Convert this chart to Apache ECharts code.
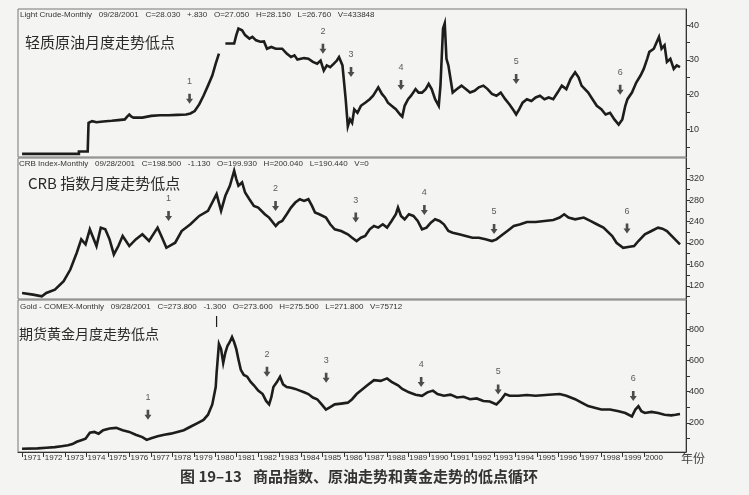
<!DOCTYPE html>
<html><head><meta charset="utf-8">
<script src="https://cdn.jsdelivr.net/npm/echarts@6/dist/echarts.min.js"></script>
<style>html,body{margin:0;padding:0;background:#f4f4f2}#c{width:749px;height:495px}</style>
</head><body><div id="c"></div>
<script>
// ---- tick labels ----
const yearTicks = [1971,1972,1973,1974,1975,1976,1977,1978,1979,1980,1981,1982,1983,1984,1985,1986,1987,1988,1989,1990,1991,1992,1993,1994,1995,1996,1997,1998,1999,2000];
const oilTickLabels = [10,20,30,40];
const oilMinorTicks = [5,10,15,20,25,30,35,40];
const crbTickLabels = [120,160,200,240,280,320];
const crbMinorTicks = [100,120,140,160,180,200,220,240,260,280,300,320,340];
const goldTickLabels = [200,400,600,800];
const goldMinorTicks = [100,200,300,400,500,600,700,800,900];

// ---- Light Crude monthly ----
const oilYears = [1970.99,1973.64,1973.64,1974.05,1974.09,1974.26,1974.46,1974.77,1975.17,1975.48,1975.78,1975.89,1975.99,1976.09,1976.19,1976.60,1977.01,1977.42,1977.82,1978.23,1978.64,1978.84,1979.04,1979.25,1979.45,1979.66,1979.86,1980.02,1980.17,1980.30,
  1980.47,1980.88,1980.98,1981.08,1981.25,1981.39,1981.59,1981.73,1981.90,1982.10,1982.27,1982.41,1982.61,1982.82,1983.12,1983.33,1983.53,1983.69,1983.83,1984.14,1984.34,1984.55,1984.75,1984.91,1985.06,1985.20,1985.36,1985.53,1985.67,1985.77,1985.93,1986.08,
  1986.18,1986.28,1986.38,1986.48,1986.63,1986.79,1986.99,1987.20,1987.36,1987.50,1987.60,1987.77,1987.91,1988.05,1988.22,1988.42,1988.62,1988.72,1988.83,1988.99,1989.13,1989.34,1989.48,1989.64,1989.81,1989.95,1990.09,1990.25,1990.42,1990.50,1990.62,1990.70,1990.78,1990.87,1990.97,
  1991.07,1991.27,1991.48,1991.68,1991.88,1992.09,1992.29,1992.50,1992.70,1992.90,1993.11,1993.31,1993.52,1993.72,1993.93,1994.03,1994.17,1994.33,1994.53,1994.74,1994.94,1995.14,1995.35,1995.55,1995.76,1995.96,1996.16,1996.37,1996.57,1996.78,1996.94,1997.08,1997.39,1997.59,1997.79,
  1998.00,1998.20,1998.41,1998.61,1998.81,1998.98,1999.12,1999.22,1999.43,1999.63,1999.83,1999.98,2000.14,2000.24,2000.45,2000.59,2000.69,2000.81,2000.95,2001.06,2001.22,2001.38,2001.52,2001.67];
const oilValues = [3.0,3.0,3.7,3.7,11.9,12.4,12.1,12.3,12.5,12.7,12.9,13.7,14.3,13.7,13.4,13.4,13.9,14.1,14.1,14.2,14.3,14.6,15.3,17.2,19.7,22.6,25.5,28.9,31.8,null,
  34.7,34.7,37.1,39.0,38.5,37.1,36.1,36.6,35.6,35.2,35.3,33.2,33.7,33.2,33.2,31.8,30.8,31.3,30.1,30.5,30.3,29.4,28.9,29.8,26.9,28.4,27.9,28.9,29.8,30.8,28.4,18.7,
  10.9,12.9,11.9,15.8,14.8,16.8,17.7,18.7,19.7,21.1,22.1,20.2,19.2,17.7,16.8,15.8,14.3,13.7,16.8,18.7,19.7,21.6,20.6,20.6,21.6,23.1,21.6,18.7,16.8,22.6,39.0,40.5,30.3,28.4,24.5,
  20.6,21.6,22.6,21.6,20.6,21.1,22.1,22.6,21.6,20.2,19.7,20.6,18.7,17.2,15.3,14.3,15.8,17.7,18.7,18.2,19.2,19.7,18.7,19.2,18.7,20.6,22.6,21.6,24.5,26.4,25.0,22.6,20.6,18.7,16.8,
  15.8,14.3,14.8,12.9,11.4,12.9,16.8,18.7,20.6,23.5,25.5,27.4,30.3,32.3,33.2,35.2,36.6,33.2,34.2,29.4,30.3,27.4,28.4,27.9];

// ---- CRB index monthly ----
const crbYears = [1970.99,1971.50,1971.91,1972.12,1972.52,1972.93,1973.24,1973.54,1973.75,1973.95,1974.15,1974.46,1974.66,1974.87,1975.07,1975.27,1975.48,1975.68,1975.99,1976.29,1976.60,1976.91,1977.31,1977.52,1977.72,1978.13,1978.43,1978.84,1979.25,1979.66,1980.06,1980.27,1980.47,1980.68,1980.88,
  1980.98,1981.08,1981.25,1981.39,1981.59,1981.80,1982.00,1982.31,1982.51,1982.82,1982.96,1983.12,1983.33,1983.53,1983.73,1983.94,1984.14,1984.34,1984.51,1984.65,1984.85,1985.16,1985.36,1985.57,1985.87,1986.18,1986.38,1986.59,1986.79,1986.99,1987.20,1987.40,1987.60,1987.81,
  1988.01,1988.22,1988.42,1988.52,1988.66,1988.83,1989.03,1989.24,1989.44,1989.64,1989.85,1990.05,1990.25,1990.46,1990.66,1990.87,1991.07,1991.37,1991.68,1991.99,1992.29,1992.60,1992.90,1993.11,1993.31,1993.62,1993.92,1994.23,1994.53,1994.94,1995.35,1995.76,
  1996.06,1996.27,1996.47,1996.78,1997.18,1997.49,1997.79,1998.10,1998.51,1998.71,1999.02,1999.32,1999.53,1999.73,2000.03,2000.34,2000.65,2000.85,2001.06,2001.36,2001.67];
const crbValues = [106.6,103.5,100.4,106.6,112.9,128.5,150.4,181.7,206.8,197.4,225.6,194.3,228.7,225.6,206.8,178.6,194.3,213.0,194.3,206.8,216.2,203.7,228.7,209.9,191.1,200.5,222.4,235.0,250.6,260.0,291.3,260.0,288.2,307.0,335.1,
  319.5,307.0,313.2,294.4,281.9,269.4,266.2,253.7,247.5,231.8,238.1,241.2,253.7,266.2,275.6,281.9,278.8,281.9,269.4,256.9,253.7,247.5,235.0,225.6,222.4,216.2,209.9,203.7,209.9,213.0,225.6,231.8,228.7,235.0,
  228.7,241.2,253.7,266.2,250.6,244.3,253.7,250.6,241.2,225.6,228.7,238.1,244.3,241.2,235.0,222.4,219.3,216.2,213.0,209.9,209.9,206.8,203.7,206.8,213.0,222.4,231.8,235.0,239.3,239.3,241.2,243.1,
  247.5,253.7,247.5,244.3,247.5,241.2,235.0,228.7,213.0,200.5,191.1,193.0,194.3,203.7,216.2,222.4,228.7,226.8,222.4,209.9,197.4];

// ---- Gold COMEX monthly ----
const goldYears = [1970.99,1971.71,1972.12,1972.52,1972.83,1973.13,1973.34,1973.54,1973.75,1973.95,1974.15,1974.36,1974.56,1974.77,1975.07,1975.38,1975.68,1975.99,1976.29,1976.60,1976.80,1977.01,1977.31,1977.62,1977.92,1978.23,1978.53,1978.84,1979.15,1979.45,1979.66,1979.86,1980.02,1980.06,1980.17,1980.27,1980.37,1980.47,1980.57,1980.67,1980.78,1980.88,1980.98,1981.08,1981.19,
  1981.33,1981.49,1981.65,1981.80,1982.00,1982.21,1982.37,1982.51,1982.61,1982.71,1982.88,1983.02,1983.16,1983.33,1983.53,1983.73,1983.94,1984.14,1984.34,1984.55,1984.75,1984.96,1985.16,1985.36,1985.57,1985.87,1986.18,1986.38,1986.59,1986.79,1987.09,1987.40,1987.71,1988.01,1988.22,1988.52,1988.72,
  1989.03,1989.34,1989.64,1989.89,1990.15,1990.36,1990.66,1990.97,1991.27,1991.58,1991.88,1992.19,1992.50,1992.80,1993.11,1993.31,1993.52,1993.72,1994.13,1994.53,1994.94,1995.55,1996.06,1996.37,1996.78,1997.08,1997.39,1997.69,1998.00,1998.41,1998.81,1999.12,1999.43,1999.59,1999.73,1999.87,
  2000.03,2000.34,2000.65,2000.95,2001.26,2001.46,2001.67];
const goldValues = [35,38,42,46,52,58,65,80,90,100,138,143,132,154,165,169,154,143,125,110,92,103,116,125,132,143,154,176,198,220,253,319,430,518,705,672,584,650,694,716,749,716,672,606,540,
  507,496,463,441,407,385,341,319,363,430,463,496,447,430,425,418,407,396,385,363,352,319,286,302,319,324,330,352,385,407,441,474,469,485,463,441,418,
  396,381,374,396,407,385,374,381,363,368,352,357,341,337,319,346,385,374,374,379,374,381,385,374,352,330,308,297,286,286,275,264,242,286,308,275,
  264,271,264,253,249,253,258];
const goldHighBarYear = [1980.06,1980.06];
const goldHighBarValue = [813,884];

// ---- cycle low markers ----
const lowLabels = ['1','2','3','4','5','6'];
const oilLowYears = [1978.80,1985.02,1986.33,1988.66,1994.03,1998.88];
const oilLowValues = [18.8,33.2,26.5,22.8,24.5,21.4];
const crbLowYears = [1977.82,1982.81,1986.55,1989.75,1993.00,1999.20];
const crbLowValues = [250.5,269,247.5,261.7,226,227];
const goldLowYears = [1976.86,1982.41,1985.17,1989.60,1993.19,1999.49];
const goldLowValues = [253,528,489,462,414,372];

const pairs = (xs, ys) => xs.map((x, i) => [x, ys[i]]);

const chart = echarts.init(document.getElementById('c'));
const X_MIN = 1970.8, X_MAX = 2001.95;
const gridBase = {left: 18, right: 63, show: true, borderColor: '#777', borderWidth: 1, backgroundColor: 'transparent'};
const arrowPath = 'path://M2.5,0 L5.5,0 L5.5,5 L8,5 L4,10 L0,5 L2.5,5 Z';

function yAx(idx, min, max, labels, ticks) {
  return {
    type: 'value', gridIndex: idx, position: 'right', min: min, max: max,
    axisLine: {show: true, lineStyle: {color: '#333', width: 1}},
    axisTick: {show: true, length: 4, customValues: ticks, lineStyle: {color: '#333'}},
    axisLabel: {show: true, customValues: labels, margin: 3, fontSize: 9, color: '#333', fontFamily: 'Liberation Sans'},
    splitLine: {show: false}
  };
}
function lineSeries(idx, data) {
  return {type: 'line', xAxisIndex: idx, yAxisIndex: idx, data: data, showSymbol: false, connectNulls: false,
    lineStyle: {color: '#1d1d1d', width: 2.6, join: 'miter'}, silent: true, z: 3};
}
function markSeries(idx, xs, ys) {
  return {type: 'scatter', xAxisIndex: idx, yAxisIndex: idx, data: pairs(xs, ys),
    symbol: arrowPath, symbolSize: [7, 10], itemStyle: {color: '#222'}, z: 4,
    label: {show: true, position: 'top', distance: 8, fontSize: 9, color: '#333', fontFamily: 'Liberation Sans',
      formatter: p => lowLabels[p.dataIndex]}};
}

chart.setOption({
  animation: false,
  backgroundColor: '#f4f4f2',
  grid: [
    Object.assign({top: 9, height: 148}, gridBase),
    Object.assign({top: 158, height: 141}, gridBase),
    Object.assign({top: 300, height: 152}, gridBase)
  ],
  xAxis: [
    {type: 'value', gridIndex: 0, min: X_MIN, max: X_MAX, show: false},
    {type: 'value', gridIndex: 1, min: X_MIN, max: X_MAX, show: false},
    {type: 'value', gridIndex: 2, min: X_MIN, max: X_MAX,
      axisLine: {show: true, lineStyle: {color: '#333'}},
      axisTick: {show: true, length: 5, customValues: yearTicks, lineStyle: {color: '#333'}},
      axisLabel: {show: true, customValues: yearTicks, align: 'left', margin: 2, padding: [0, 0, 0, 1],
        fontSize: 8, color: '#333', fontFamily: 'Liberation Sans', formatter: v => String(Math.round(v))},
      splitLine: {show: false}}
  ],
  yAxis: [
    yAx(0, 2.1, 44.6, oilTickLabels, oilMinorTicks),
    yAx(1, 95.3, 358.9, crbTickLabels, crbMinorTicks),
    yAx(2, 14.7, 986, goldTickLabels, goldMinorTicks)
  ],
  series: [
    lineSeries(0, pairs(oilYears, oilValues)),
    lineSeries(1, pairs(crbYears, crbValues)),
    lineSeries(2, pairs(goldYears, goldValues)),
    {type: 'line', xAxisIndex: 2, yAxisIndex: 2, data: pairs(goldHighBarYear, goldHighBarValue), showSymbol: false,
      lineStyle: {color: '#1d1d1d', width: 1.2}, silent: true},
    markSeries(0, oilLowYears, oilLowValues),
    markSeries(1, crbLowYears, crbLowValues),
    markSeries(2, goldLowYears, goldLowValues)
  ],
  graphic: [
    {type: 'text', left: 20, top: 11, style: {text: 'Light Crude-Monthly   09/28/2001   C=28.030   +.830   O=27.050   H=28.150   L=26.760   V=433848', font: '8px "Liberation Sans"', fill: '#333'}},
    {type: 'text', left: 25, top: 35, style: {text: '轻质原油月度走势低点', font: '15px "Noto Sans CJK SC"', fill: '#2a2a2a'}},
    {type: 'text', left: 19, top: 160, style: {text: 'CRB Index-Monthly   09/28/2001   C=198.500   -1.130   O=199.930   H=200.040   L=190.440   V=0', font: '8px "Liberation Sans"', fill: '#333'}},
    {type: 'text', left: 28, top: 176, style: {text: 'CRB 指数月度走势低点', font: '15px "Noto Sans CJK SC"', fill: '#2a2a2a'}},
    {type: 'text', left: 20, top: 303, style: {text: 'Gold - COMEX-Monthly   09/28/2001   C=273.800   -1.300   O=273.600   H=275.500   L=271.800   V=75712', font: '8px "Liberation Sans"', fill: '#333'}},
    {type: 'text', left: 19, top: 327, style: {text: '期货黄金月度走势低点', font: '14px "Noto Sans CJK SC"', fill: '#2a2a2a'}},
    {type: 'text', left: 681, top: 452, style: {text: '年份', font: '12px "Noto Sans CJK SC"', fill: '#444'}},
    {type: 'text', left: 180, top: 469, style: {text: '图 19–13', font: 'bold 15px "Noto Sans CJK SC"', fill: '#333'}},
    {type: 'text', left: 253, top: 469, style: {text: '商品指数、原油走势和黄金走势的低点循环', font: 'bold 15px "Noto Sans CJK SC"', fill: '#333'}}
  ]
});
</script>
</body></html>
